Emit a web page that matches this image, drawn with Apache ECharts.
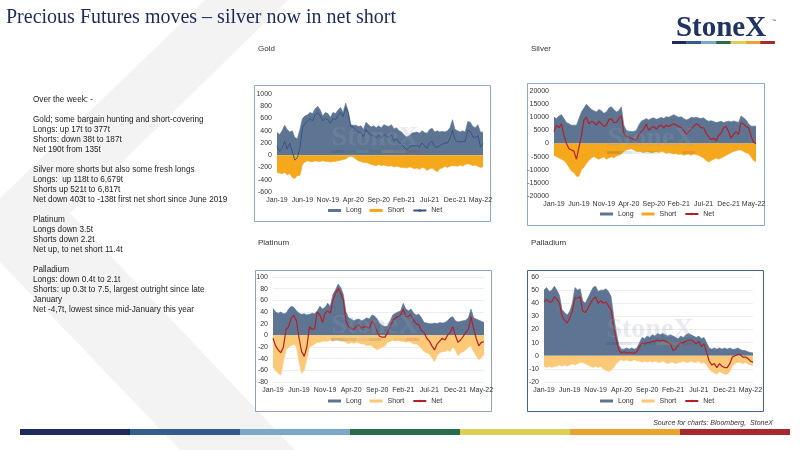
<!DOCTYPE html>
<html><head><meta charset="utf-8">
<script src="https://cdn.jsdelivr.net/npm/echarts/dist/echarts.min.js"></script>
<style>html,body{margin:0;padding:0;background:#fff}#c{width:800px;height:450px}</style>
</head><body><div id="c"></div>
<script>
// ---------- data ----------
const MONTHS = ['Jan','Feb','Mar','Apr','May','Jun','Jul','Aug','Sep','Oct','Nov','Dec'];
const TICK_LABELS = ['Jan-19','Jun-19','Nov-19','Apr-20','Sep-20','Feb-21','Jul-21','Dec-21','May-22'];
// half-monthly periods Jan-19 .. May-22
const periods = [];
for (let m = 0; m < 41; m++) { const lab = MONTHS[m % 12] + '-' + (19 + Math.floor(m / 12)); periods.push(lab, lab); }

const goldLong = [370,340,400,490,420,380,400,290,270,420, 600,640,660,700,680,760,800,740,640,700, 680,620,700,680,740,780,700,850,720,500, 490,490,470,480,420,540,500,460,480,450, 480,450,500,480,470,500,430,450,400,380, 330,300,320,360,370,380,360,400,370,360, 420,440,380,400,380,390,380,400,450,580, 420,400,380,400,380,550,540,470,450,500, 380,377];
const goldShort = [-280,-290,-300,-280,-320,-300,-360,-380,-330,-330, -150,-110,-90,-100,-110,-90,-100,-100,-90,-100, -100,-110,-100,-100,-90,-80,-70,-60,-30,-20, -30,-60,-90,-100,-120,-120,-130,-150,-160,-170, -150,-170,-160,-170,-180,-170,-190,-180,-190,-200, -200,-210,-190,-200,-220,-210,-230,-200,-210,-250, -220,-210,-240,-270,-220,-210,-180,-200,-180,-170, -170,-180,-160,-180,-150,-140,-150,-170,-160,-180, -200,-187];
const goldNet = [150,60,120,230,100,200,60,-80,-40,120, 450,520,560,600,560,660,700,640,560,600, 580,520,600,580,650,700,630,780,690,470, 460,420,380,370,300,420,370,320,320,280, 330,280,340,310,290,330,240,270,210,180, 130,90,130,160,150,170,130,200,160,110, 200,230,140,130,160,180,200,200,270,410, 250,220,220,220,230,410,390,300,290,320, 135,190];

const silverLong = [10000,9500,10500,11000,9500,8000,7500,7000,7000,7000, 9500,12000,13500,15000,14000,13000,12500,12000,13000,12500, 11500,12000,13500,14000,13000,12000,12500,14000,7000,5000, 4700,4500,4600,5000,7000,8500,9000,9500,9000,9500, 9800,9200,9500,10000,9500,10200,10000,10500,11000,10500, 10000,10200,9500,9000,9300,10000,9800,10000,9700,9500, 9800,9000,8500,8700,8400,8000,8200,8500,8000,8300, 8500,8200,8600,8300,8000,10500,9800,9000,7500,6600, 6600,6679];
const silverShort = [-4500,-5000,-5500,-6000,-6500,-7500,-9000,-10500,-11000,-12500, -12500,-10000,-9000,-7500,-6500,-5500,-5000,-5500,-6000,-5500, -5000,-6000,-5500,-5000,-5500,-4800,-4500,-4000,-3000,-2500, -2200,-2000,-2500,-3000,-3000,-3200,-3500,-3000,-3200,-3500, -3300,-3000,-3500,-3000,-3200,-3800,-3500,-3700,-4000,-3800, -4200,-4000,-4500,-4200,-4000,-4500,-4000,-4200,-4500,-5000, -5500,-6500,-7000,-6500,-6000,-5500,-6000,-5500,-5000,-4500, -4000,-3500,-3000,-2800,-2500,-2500,-3000,-3500,-3800,-5000, -6500,-6817];
const silverNet = [4500,7000,6000,7500,3000,0,-2000,-2500,-3000,-6000, -1500,3000,9000,10000,7500,8500,8000,7000,8500,7500, 6500,7000,9000,9500,8000,8000,9500,10500,4000,2500, 2500,2000,1500,1200,3500,4500,5500,7500,5000,6000, 6500,5500,6500,7000,6000,7000,6500,7000,7500,7000, 6500,6000,5000,3500,4500,5500,6500,7500,7000,6000, 6000,4000,2500,1500,2000,1000,3000,4000,6000,6500, 4500,2000,3500,4500,3500,8000,7500,6500,6000,3000, 500,-138];

const platLong = [46,40,38,40,37,38,45,50,48,42, 38,36,37,35,36,38,37,42,50,45, 48,55,50,70,78,88,82,70,40,30, 28,25,27,28,25,27,30,28,35,33, 28,20,17,15,16,25,35,38,40,42, 55,45,42,45,38,35,36,30,22,21, 20,20,21,20,22,21,22,25,30,32, 25,23,24,25,26,30,45,30,28,26, 24,22];
const platShort = [-55,-60,-65,-68,-45,-25,-20,-18,-15,-20, -45,-65,-60,-40,-20,-18,-15,-12,-12,-10, -10,-10,-8,-10,-8,-8,-10,-10,-12,-15, -12,-14,-12,-13,-15,-15,-18,-17,-18,-22, -25,-22,-20,-18,-12,-10,-8,-10,-8,-10, -10,-12,-10,-12,-15,-15,-18,-22,-28,-30, -32,-38,-45,-35,-30,-28,-28,-25,-28,-20, -25,-35,-30,-28,-25,-20,-18,-28,-35,-42, -38,-33];
const platNet = [-5,-18,-25,-30,-20,10,15,30,34,25, -5,-28,-36,-20,15,10,12,40,35,22, 38,42,38,60,72,80,72,60,25,15, 12,10,15,18,12,15,14,12,25,18, 5,-2,-3,-3,5,15,25,30,32,35, 45,32,33,35,25,20,18,8,5,-5, -10,-18,-25,-15,-10,-5,-8,0,5,15, 0,-12,-8,-2,5,10,32,12,-5,-18, -12,-11];

const pallLong = [50,52,49,50,53,50,46,35,33,31, 34,40,52,50,51,42,40,44,48,52, 53,49,50,50,51,49,45,30,18,8, 5,5,6,5,6,5,6,10,14,13, 15,14,16,15,17,16,17,16,15,16, 15,14,13,15,14,16,17,16,15,14, 15,13,14,10,6,5,6,5,6,5, 6,5,6,5,5,6,5,4,4,3, 2.5,2.1];
const pallShort = [-8,-9,-8,-9,-8,-8,-7,-8,-7,-8, -7,-6,-7,-6,-5,-5,-6,-7,-8,-9, -8,-9,-8,-10,-11,-12,-11,-9,-6,-4, -3,-4,-3,-4,-4,-3,-4,-4,-5,-4, -5,-4,-5,-4,-5,-5,-4,-5,-6,-5, -5,-6,-5,-5,-4,-5,-5,-4,-5,-5, -4,-6,-5,-7,-10,-12,-13,-14,-12,-13, -14,-14,-12,-8,-6,-5,-5,-6,-5,-6, -7,-7.5];
const pallNet = [41,43,41,41,45,43,40,30,27,25, 29,34,44,44,45,34,33,36,40,43, 45,40,42,40,41,38,35,22,12,4, 2,3,2,2.5,2,2,3,7,10,9, 10,10,11,11,12,11,12,11,10,9, 4,5,8,10,10,11,12,12,11,9, 11,7,9,3,-4,-7,-6,-9,-6,-8, -9,-9,-6,-1,0,1,1,-1,-1,-2, -4,-5];

const LEFT_TEXT = [
 'Over the week: -','',
 'Gold; some bargain hunting and short-covering','Longs: up 17t to 377t','Shorts: down 38t to 187t','Net 190t from 135t','',
 'Silver more shorts but also some fresh longs','Longs:  up 118t to 6,679t','Shorts up 521t to 6,817t','Net down 403t to -138t first net short since June 2019','',
 'Platinum','Longs down 3.5t','Shorts down 2.2t','Net up, to net short 11.4t','',
 'Palladium','Longs: down 0.4t to 2.1t','Shorts: up 0.3t to 7.5, largest outright since late','January','Net -4,7t, lowest since mid-January this year'
];
const BRAND = ['#1f2a5c','#345c8c','#7ba8c8','#2a6b4b','#dccf55','#eaa32f','#a8282f'];

// ---------- chart config ----------
const FONT = '"Liberation Sans", Arial, sans-serif';
const LONG_C = '#5d7593';
const charts = [
  {key:'g', title:'Gold', grid:{left:277,right:317,top:94,bottom:258}, y:[-600,1000,200], long:goldLong, short:goldShort, net:goldNet,
   shortC:'#f5a81c', netC:'#34517f', netW:0.9, split:false, legend:{left:328, top:207}, box:[254,85,236,136], border:'#8fabcc', title_xy:[258,49], wm:[375,138]},
  {key:'s', title:'Silver', grid:{left:554,right:44,top:91,bottom:254}, y:[-20000,20000,5000], long:silverLong, short:silverShort, net:silverNet,
   shortC:'#f5a81c', netC:'#b3202a', netW:1.2, split:false, legend:{left:600, top:210.5}, box:[527,83,237,142], border:'#8fabcc', title_xy:[531,49], wm:[651,139]},
  {key:'p', title:'Platinum', grid:{left:273,right:316,top:277,bottom:68}, y:[-80,100,20], long:platLong, short:platShort, net:platNet,
   shortC:'#fcc978', netC:'#b3202a', netW:1.2, split:true, legend:{left:328, top:397.5}, box:[255,270,236,141], border:'#8fa3bd', title_xy:[258,243], wm:[375,326]},
  {key:'d', title:'Palladium', grid:{left:544,right:47,top:277,bottom:68}, y:[-20,60,10], long:pallLong, short:pallShort, net:pallNet,
   shortC:'#fcc978', netC:'#b3202a', netW:1.2, split:true, legend:{left:600, top:397.5}, box:[527,270,236,141], border:'#47648c', title_xy:[531,243], wm:[650,330]}
];

const option = {animation:false, grid:[], xAxis:[], yAxis:[], series:[], legend:[], graphic:[]};
const G = [];
// background chevron
G.push({type:'polygon', z:-20, silent:true, shape:{points:[[205,0],[288,0],[70,213],[295,450],[180,450],[0,262],[0,198]]}, style:{fill:'#f3f3f3'}});
// title
G.push({type:'text', x:6, y:18, style:{text:'Precious Futures moves \u2013 silver now in net short', fill:'#1d2a5a', font:'20px "Liberation Serif", "Times New Roman", serif', textVerticalAlign:'middle'}});
// logo
G.push({type:'text', x:721, y:29, style:{text:'StoneX', fill:'#1f3462', font:'bold 29px "Liberation Serif", serif', textAlign:'center', textVerticalAlign:'middle'}});
G.push({type:'text', x:772, y:19, style:{text:'\u2122', fill:'#1f3462', font:'4px sans-serif'}});
BRAND.forEach((c,i)=>{ G.push({type:'rect', shape:{x:672+i*14.7, y:41, width:14.7, height:3}, style:{fill:c}}); });
// bottom bar
BRAND.forEach((c,i)=>{ G.push({type:'rect', shape:{x:20+i*110, y:429, width:110, height:6}, style:{fill:c}}); });
G.push({type:'text', x:773, y:423, style:{text:'Source for charts: Bloomberg,  StoneX', fill:'#333', font:'italic 7px ' + FONT, textAlign:'right', textVerticalAlign:'middle'}});
// left text
LEFT_TEXT.forEach((t,i)=>{ if(t) G.push({type:'text', x:33, y:100+i*10, style:{text:t, fill:'#222', font:'8.2px ' + FONT, textVerticalAlign:'middle'}}); });

charts.forEach((c,k)=>{
  option.grid.push(c.grid);
  option.xAxis.push({type:'category', gridIndex:k, data:periods, boundaryGap:false,
    axisLine:{show:false, onZero:false}, axisTick:{show:false}, splitLine:{show:false},
    axisLabel:{interval:9, fontSize:7, color:'#333', fontFamily:FONT, margin:5}});
  option.yAxis.push({type:'value', gridIndex:k, min:c.y[0], max:c.y[1], interval:c.y[2],
    axisLine:{show:false}, axisTick:{show:false},
    splitLine:{show:c.split, lineStyle:{color:'#e3e3e3', width:0.6}},
    axisLabel:{fontSize:7, color:'#333', fontFamily:FONT, margin:5, formatter:v=>String(v)}});
  option.series.push(
    {name:c.key+':Long', type:'line', xAxisIndex:k, yAxisIndex:k, data:c.long, symbol:'none', silent:true,
     lineStyle:{color:LONG_C, width:0.6}, itemStyle:{color:LONG_C}, areaStyle:{color:LONG_C, opacity:1}},
    {name:c.key+':Short', type:'line', xAxisIndex:k, yAxisIndex:k, data:c.short, symbol:'none', silent:true,
     lineStyle:{color:c.shortC, width:0.6}, itemStyle:{color:c.shortC}, areaStyle:{color:c.shortC, opacity:1}},
    {name:c.key+':Net', type:'line', xAxisIndex:k, yAxisIndex:k, data:c.net, symbol:'none', silent:true,
     lineStyle:{color:c.netC, width:c.netW}, itemStyle:{color:c.netC}}
  );
  option.legend.push({left:c.legend.left, top:c.legend.top, orient:'horizontal', padding:0, itemGap:8,
    itemWidth:13, itemHeight:3, selectedMode:false,
    textStyle:{fontSize:7, color:'#333', fontFamily:FONT},
    formatter:n=>n.split(':')[1],
    data:[{name:c.key+':Long', icon:'rect'},{name:c.key+':Short', icon:'rect'},{name:c.key+':Net'}]});
  // box
  G.push({type:'rect', z:-10, shape:{x:c.box[0]+0.5, y:c.box[1]+0.5, width:c.box[2], height:c.box[3]}, style:{fill:'#fff', stroke:c.border, lineWidth:1}});
  // title
  G.push({type:'text', x:c.title_xy[0], y:c.title_xy[1], style:{text:c.title, fill:'#333', font:'8px ' + FONT, textVerticalAlign:'middle'}});
  // watermark
  G.push({type:'text', z:50, silent:true, x:c.wm[0], y:c.wm[1], style:{text:'StoneX', fill:'rgba(150,158,178,0.22)', font:'bold 28px "Liberation Serif", serif', textAlign:'center', textVerticalAlign:'middle'}});
  BRAND.forEach((col,i)=>{ G.push({type:'rect', z:50, silent:true, shape:{x:c.wm[0]-44+i*12.6, y:c.wm[1]+12, width:12.6, height:3}, style:{fill:col, opacity:0.15}}); });
});
option.graphic = [{type:'group', children:G}];

const chart = echarts.init(document.getElementById('c'), null, {renderer:'canvas'});
chart.setOption(option);
</script></body></html>
